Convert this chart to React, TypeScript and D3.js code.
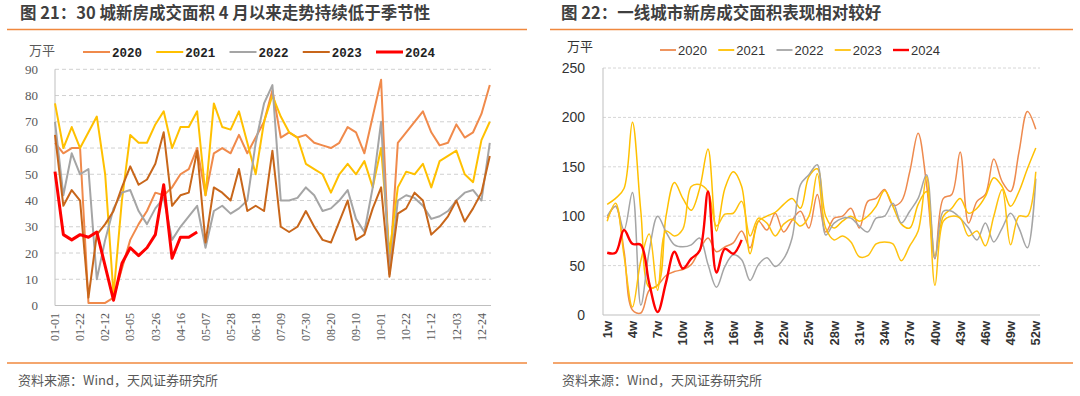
import React from 'react';
import * as d3 from 'd3';

// ---------------- Left chart (30 城) data: weekly samples, 万平 ----------------
const leftTickLabels = ["01-01","01-22","02-12","03-05","03-26","04-16","05-07","05-28","06-18","07-09","07-30","08-20","09-10","10-01","10-22","11-12","12-03","12-24"];
const leftSeriesNames = ["2020","2021","2022","2023","2024"];
const left2020 = [62,58,60,60,1,1,1,3,14,25,31,36,43,42,45,50,52,60,42,58,60,58,65,58,64,70,82,64,66,64,65,62,61,60,62,68,66,58,72,86,12,62,66,70,74,66,61,62,69,64,66,73,84];
const left2021 = [77,60,68,60,66,72,50,4,40,65,62,62,69,74,60,68,68,74,42,77,68,67,74,62,50,70,80,72,66,64,54,52,50,43,50,54,50,55,45,60,20,45,51,50,54,45,55,57,59,50,47,63,70];
const left2022 = [70,42,58,50,52,10,25,37,43,44,36,31,37,41,25,30,34,38,22,36,38,35,37,40,62,77,84,40,40,41,45,42,36,37,40,44,33,28,45,70,12,40,42,41,38,33,34,36,40,43,44,40,62];
const left2023 = [65,38,44,40,3,27,31,36,45,53,46,48,54,66,38,42,43,59,24,45,43,40,52,36,38,36,59,30,28,30,36,30,25,24,32,40,25,27,37,45,11,35,37,43,40,27,30,34,40,32,37,43,57];
const left2024 = [51,27,25,27,26,28,15,2,16,22,19,22,27,46,18,26,26,28];
const leftYTicks = [0,10,20,30,40,50,60,70,80,90];

// ---------------- Right chart (一线城市) data: weekly, 万平 ----------------
const rightWeeks = Array.from({ length: 52 }, (_, i) => `${i + 1}w`);
const rightTickLabels = ["1w","4w","7w","10w","13w","16w","19w","22w","25w","28w","31w","34w","37w","40w","43w","46w","49w","52w"];
const right2020 = [98,110,65,5,2,25,30,40,44,46,51,66,78,64,69,73,85,68,95,86,103,84,96,105,88,122,84,98,100,108,88,115,118,127,111,115,145,184,132,57,118,122,165,93,115,122,158,135,125,165,206,188];
const right2021 = [112,118,128,195,105,28,30,100,134,118,106,128,168,85,128,145,130,62,95,100,104,112,118,108,140,148,100,88,95,100,95,100,110,126,110,92,88,112,125,60,100,108,118,103,108,120,139,130,110,125,148,169];
const right2022 = [100,110,86,124,10,65,100,84,71,69,71,78,51,28,49,61,56,35,51,58,49,57,78,132,142,152,81,93,98,98,90,84,98,100,113,93,105,118,142,57,105,105,98,88,76,93,74,88,103,88,68,138];
const right2023 = [95,113,60,8,55,82,25,85,80,87,130,132,125,90,102,103,115,80,98,93,80,92,97,90,100,143,88,76,80,74,59,60,72,74,72,55,70,85,140,30,95,100,98,80,85,70,100,127,71,100,100,145];
const right2024 = [63,63,86,72,71,32,3,33,64,47,57,65,125,43,67,62,76];
const rightYTicks = [0,50,100,150,200,250];

const leftColors = ["#F08A4B", "#FFC000", "#A5A5A5", "#C8661A", "#FF0000"];
const rightColors = ["#EE8A4E", "#FFC000", "#A5A5A5", "#FFC20E", "#FF0000"];

const W = 1080;
const H = 396;

const serif = "'Liberation Serif', 'DejaVu Serif', serif";
const cjk = "'Noto Sans CJK SC', 'Noto Sans', sans-serif";
const sans = "'Liberation Sans', Arial, sans-serif";

function LeftChart() {
  const x = d3.scaleLinear().domain([0, 365]).range([55, 491]);
  const y = d3.scaleLinear().domain([0, 90]).range([305.5, 69.3]);
  const series = [left2020, left2021, left2022, left2023, left2024];
  const line = d3.line<number>().x((_, i) => x(i * 7)).y((d) => y(d)).curve(d3.curveLinear);
  const legendX = d3.scaleLinear().domain([0, 4]).range([83, 376]);
  return (
    <g>
      {leftYTicks.filter((t) => t > 0).map((t) => (
        <line key={t} x1={x(0)} x2={x(365)} y1={y(t)} y2={y(t)} stroke="#D0D0D0" strokeWidth={1} strokeDasharray="4,3" />
      ))}
      <line x1={x(0)} x2={x(0)} y1={y(90)} y2={y(0)} stroke="#BFBFBF" strokeWidth={1} />
      <line x1={x(0)} x2={x(365)} y1={y(0)} y2={y(0)} stroke="#BFBFBF" strokeWidth={1.2} />
      {leftYTicks.map((t) => (
        <text key={t} x={38} y={y(t)} dy="0.35em" textAnchor="end" fontFamily={serif} fontSize={13} fill="#595959">{t}</text>
      ))}
      {leftTickLabels.map((lab, i) => (
        <text key={lab} transform={`translate(${x(i * 21)},313) rotate(-90)`} dy="0.35em" textAnchor="end" fontFamily={serif} fontSize={12} fill="#595959">{lab}</text>
      ))}
      {series.map((s, i) => (
        <path key={i} d={line(s) || ''} fill="none" stroke={leftColors[i]} strokeWidth={i === 4 ? 3 : 2} strokeLinejoin="round" />
      ))}
      <text x={29} y={50} dy="0.35em" fontFamily={cjk} fontSize={13} fill="#595959">万平</text>
      {leftSeriesNames.map((n, i) => (
        <g key={n}>
          <line x1={legendX(i)} x2={legendX(i) + 27} y1={52} y2={52} stroke={leftColors[i]} strokeWidth={i === 4 ? 3 : 2} />
          <text x={legendX(i) + 29} y={52} dy="0.36em" fontFamily="'Liberation Mono', 'DejaVu Sans Mono', monospace" fontWeight="bold" fontSize={12.5} fill="#222">{n}</text>
        </g>
      ))}
    </g>
  );
}

function RightChart() {
  const x = d3.scalePoint<string>().domain(rightWeeks).range([603, 1040]).padding(0.5);
  const y = d3.scaleLinear().domain([0, 250]).range([315, 68]);
  const series = [right2020, right2021, right2022, right2023, right2024];
  const line = d3.line<number>().x((_, i) => x(rightWeeks[i]) as number).y((d) => y(d)).curve(d3.curveCatmullRom.alpha(0.5));
  const legendX = d3.scaleLinear().domain([0, 4]).range([660, 893]);
  return (
    <g>
      {rightYTicks.filter((t) => t > 0).map((t) => (
        <line key={t} x1={603} x2={1040} y1={y(t)} y2={y(t)} stroke="#D6D6D6" strokeWidth={1} strokeDasharray="3,2" />
      ))}
      <line x1={603} x2={603} y1={y(250)} y2={y(0)} stroke="#BFBFBF" strokeWidth={1} />
      <line x1={603} x2={1040} y1={y(0)} y2={y(0)} stroke="#BFBFBF" strokeWidth={1.2} />
      {rightYTicks.map((t) => (
        <text key={t} x={585} y={y(t)} dy="0.35em" textAnchor="end" fontFamily={sans} fontSize={14} fill="#333">{t}</text>
      ))}
      {rightTickLabels.map((lab) => (
        <text key={lab} transform={`translate(${x(lab)},321) rotate(-90)`} dy="0.35em" textAnchor="end" fontFamily={sans} fontSize={13} fontWeight="bold" fill="#333">{lab}</text>
      ))}
      {series.map((s, i) => (
        <path key={i} d={line(s) || ''} fill="none" stroke={rightColors[i]} strokeWidth={i === 4 ? 2.4 : 1.5} strokeLinejoin="round" />
      ))}
      <text x={567} y={46} dy="0.35em" fontFamily={cjk} fontSize={13} fill="#333">万平</text>
      {leftSeriesNames.map((n, i) => (
        <g key={n}>
          <line x1={legendX(i)} x2={legendX(i) + 16} y1={50} y2={50} stroke={rightColors[i]} strokeWidth={i === 4 ? 2.4 : 1.8} />
          <text x={legendX(i) + 18} y={50} dy="0.36em" fontFamily={sans} fontSize={13} fill="#333">{n}</text>
        </g>
      ))}
    </g>
  );
}

export default function App() {
  return (
    <svg width={W} height={H} viewBox={`0 0 ${W} ${H}`} style={{ position: 'absolute', left: 0, top: 0, background: '#fff' }}>
      <rect x={0} y={0} width={W} height={H} fill="#fff" />
      <text x={20} y={19} fontFamily={cjk} fontWeight="bold" fontSize={16.5} fill="#3F3F3F">图 21：30 城新房成交面积 4 月以来走势持续低于季节性</text>
      <text x={561} y={19} fontFamily={cjk} fontWeight="bold" fontSize={16.5} fill="#3F3F3F">图 22：一线城市新房成交面积表现相对较好</text>
      <line x1={7} x2={527} y1={29.5} y2={29.5} stroke="#F0883E" strokeWidth={1.6} />
      <line x1={550} x2={1073} y1={29.5} y2={29.5} stroke="#F0883E" strokeWidth={1.6} />
      <LeftChart />
      <RightChart />
      <line x1={7} x2={527} y1={363} y2={363} stroke="#F0883E" strokeWidth={1.6} />
      <line x1={553} x2={1073} y1={363} y2={363} stroke="#F0883E" strokeWidth={1.6} />
      <text x={18} y={380} dy="0.35em" fontFamily={cjk} fontSize={13} fill="#595959">资料来源：Wind，天风证券研究所</text>
      <text x={562} y={380} dy="0.35em" fontFamily={cjk} fontSize={13} fill="#595959">资料来源：Wind，天风证券研究所</text>
    </svg>
  );
}
